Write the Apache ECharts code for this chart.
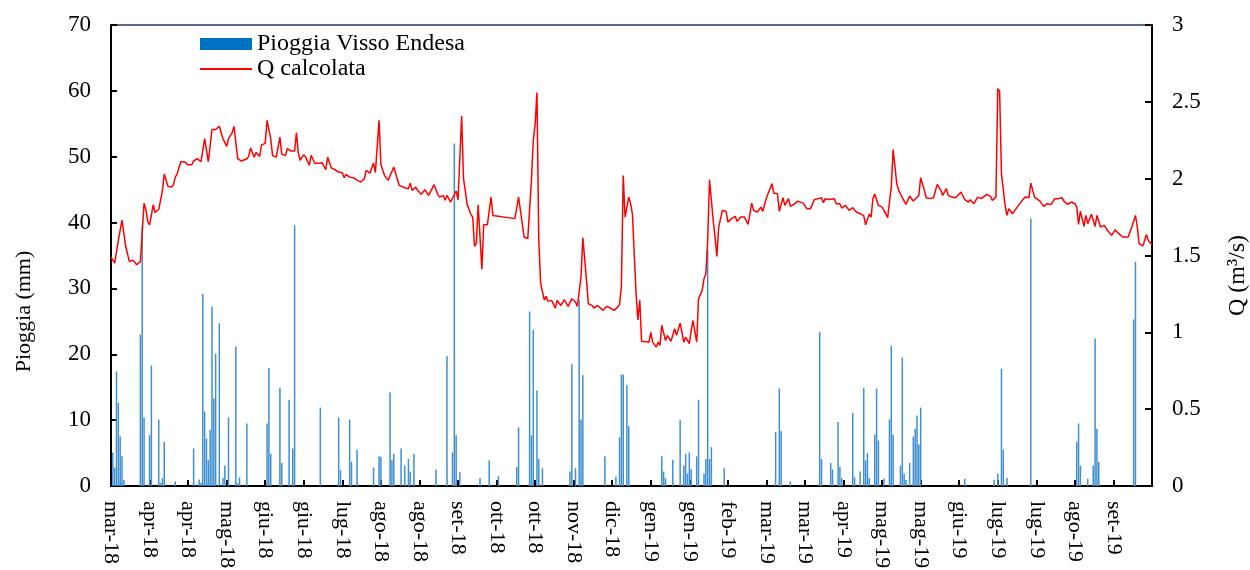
<!DOCTYPE html>
<html>
<head>
<meta charset="utf-8">
<script src="https://cdn.jsdelivr.net/npm/echarts@6/dist/echarts.min.js"></script>
<style>
  html, body { margin: 0; padding: 0; background: #fff; }
  #chart { width: 1250px; height: 570px; }
</style>
</head>
<body>
<div id="chart"></div>
<script>
// x = giorni dal 13/03/2018, un'etichetta ogni 21 giorni
var tickLabels = ['mar-18', 'apr-18', 'apr-18', 'mag-18', 'giu-18', 'giu-18', 'lug-18',
    'ago-18', 'ago-18', 'set-18', 'ott-18', 'ott-18', 'nov-18', 'dic-18', 'gen-19',
    'gen-19', 'feb-19', 'mar-19', 'mar-19', 'apr-19', 'mag-19', 'mag-19', 'giu-19',
    'lug-19', 'lug-19', 'ago-19', 'set-19'];

// pioggia giornaliera (mm): [giorno, mm]
var pioggia = [
    [1, 5.1], [2, 2.8], [3, 17.4], [4, 12.6], [5, 7.5], [6, 4.5], [7, 0.9],
    [16, 23], [17, 39.5], [18, 10.4], [21, 7.7], [22, 18.3], [26, 10.1], [27, 0.5],
    [28, 1.2], [29, 6.7], [35, 0.7], [45, 5.7], [48, 1.0], [49, 0.5], [50, 29.2],
    [51, 11.3], [52, 7.2], [53, 3.9], [54, 8.5], [55, 27.2], [56, 13.3], [57, 20.1],
    [59, 24.7], [61, 1.2], [62, 3.1], [64, 10.4], [68, 21.2], [69, 0.4], [70, 1.3],
    [74, 9.5], [85, 9.5], [86, 17.9], [87, 4.9], [92, 14.9], [93, 3.5], [97, 13.1],
    [99, 5.7], [100, 39.6], [114, 11.9], [124, 10.4], [125, 2.4], [130, 10.1], [131, 3.7],
    [134, 5.5], [143, 2.8], [146, 4.5], [147, 4.4], [152, 14.2], [153, 3.9], [154, 4.9],
    [158, 5.7], [160, 3.1], [162, 4.1], [163, 2.2], [165, 4.9], [177, 2.5], [183, 19.7],
    [186, 5.1], [187, 52], [188, 7.7], [190, 2.1], [201, 1.2], [206, 3.9], [211, 1.5],
    [221, 2.9], [222, 8.9], [228, 26.5], [229, 7.7], [230, 23.7], [232, 14.5], [233, 4.1],
    [235, 2.7], [250, 2.2], [251, 18.5], [253, 2.7], [255, 28.2], [256, 10.1], [257, 16.8],
    [269, 4.5], [275, 1.4], [277, 7.4], [278, 16.9], [279, 16.9], [281, 15.3], [282, 9.1],
    [300, 4.5], [301, 2.2], [302, 1.2], [306, 4.0], [310, 10], [312, 3.1], [313, 4.9],
    [314, 1.9], [315, 5.1], [316, 2.6], [319, 4.5], [320, 13.1], [323, 1.9], [324, 4.1],
    [325, 35.8], [326, 4.1], [327, 5.9], [334, 2.7], [362, 8.2], [364, 14.8], [365, 8.3],
    [370, 0.7], [386, 23.4], [387, 4.1], [392, 3.5], [393, 2.5], [396, 9.7], [397, 2.9],
    [398, 1.2], [404, 11.1], [405, 1.3], [408, 2.2], [410, 14.9], [411, 3.9], [412, 5],
    [413, 1.2], [416, 7.8], [417, 14.8], [418, 6.9], [421, 1.1], [424, 10.1], [425, 21.3],
    [426, 7.8], [430, 3.1], [431, 19.5], [432, 1.9], [433, 0.9], [435, 3.5], [437, 7.5],
    [438, 8.7], [439, 10.7], [440, 6.3], [441, 11.9], [465, 1.1], [481, 0.9], [483, 1.9],
    [485, 17.8], [486, 5.5], [488, 1.2], [501, 40.6], [526, 6.7], [527, 9.5], [528, 3.1],
    [532, 1.1], [535, 3.1], [536, 22.4], [537, 8.7], [538, 3.7], [557, 25.3], [558, 34]
];

// portata calcolata (m3/s): [giorno, Q]
var portata = [
    [0, 1.49], [2, 1.45], [4, 1.60], [6, 1.73], [8, 1.56], [10, 1.46], [12, 1.47],
    [14, 1.44], [16, 1.46], [17, 1.47], [18, 1.84], [19, 1.80], [20, 1.72], [21, 1.70],
    [23, 1.83], [24, 1.78], [25, 1.77], [26, 1.80], [28, 1.92], [29, 2.03], [31, 1.95],
    [33, 1.945], [34, 1.96], [35, 2.01], [36, 2.03], [38, 2.11], [40, 2.11], [42, 2.09],
    [44, 2.09], [45, 2.115], [47, 2.13], [49, 2.11], [51, 2.26], [53, 2.11], [54, 2.12],
    [55, 2.32], [57, 2.32], [59, 2.34], [61, 2.26], [63, 2.21], [64, 2.26], [66, 2.30],
    [67, 2.34], [68, 2.34], [69, 2.13], [71, 2.115], [74, 2.13], [75, 2.145], [76, 2.20],
    [78, 2.14], [79, 2.17], [81, 2.145], [82, 2.22], [84, 2.23], [85, 2.38], [87, 2.26],
    [88, 2.15], [90, 2.14], [92, 2.27], [93, 2.16], [95, 2.15], [96, 2.195], [98, 2.18],
    [99, 2.19], [100, 2.18], [101, 2.30], [102, 2.17], [103, 2.12], [105, 2.156], [106, 2.14],
    [108, 2.087], [109, 2.152], [111, 2.10], [113, 2.10], [115, 2.104], [117, 2.058],
    [118, 2.14], [120, 2.07], [122, 2.058], [124, 2.043], [126, 2.039], [127, 2.006],
    [128, 2.028], [130, 2.01], [132, 2.006], [134, 1.99], [136, 1.978], [138, 2.0],
    [139, 2.054], [141, 2.036], [143, 2.102], [144, 2.04], [146, 2.38], [147, 2.09],
    [149, 2.02], [151, 1.99], [154, 2.076], [157, 1.956], [158, 1.963], [160, 1.941],
    [162, 1.935], [163, 1.971], [164, 1.924], [166, 1.945], [167, 1.924], [169, 1.898],
    [171, 1.928], [173, 1.891], [174, 1.902], [176, 1.961], [178, 1.896], [179, 1.88],
    [181, 1.891], [182, 1.859], [183, 1.891], [185, 1.848], [186, 1.841], [188, 1.92],
    [189, 1.86], [191, 2.41], [192, 2.0], [193, 1.92], [194, 1.83], [196, 1.77], [197, 1.75],
    [198, 1.56], [199, 1.58], [200, 1.83], [202, 1.41], [203, 1.70], [205, 1.70], [207, 1.88],
    [208, 1.76], [220, 1.74], [222, 1.88], [225, 1.62], [226, 1.62], [227, 1.61], [228, 1.80],
    [229, 1.99], [230, 2.25], [231, 2.35], [232, 2.56], [233, 1.60], [234, 1.32], [236, 1.21],
    [237, 1.234], [238, 1.203], [240, 1.208], [242, 1.158], [243, 1.208], [245, 1.175],
    [247, 1.212], [249, 1.169], [251, 1.219], [253, 1.197], [254, 1.169], [256, 1.36],
    [257, 1.616], [259, 1.338], [260, 1.186], [262, 1.175], [263, 1.158], [265, 1.175],
    [266, 1.164], [268, 1.143], [270, 1.169], [272, 1.158], [274, 1.143], [276, 1.164],
    [277, 1.182], [278, 1.30], [279, 2.02], [280, 1.75], [282, 1.88], [283, 1.84], [284, 1.77],
    [286, 1.25], [287, 1.08], [288, 1.21], [289, 0.94], [291, 0.94], [293, 0.936], [294, 1.0],
    [295, 0.936], [297, 0.904], [298, 0.936], [299, 0.915], [300, 1.045], [302, 0.947],
    [303, 0.98], [305, 0.941], [307, 1.023], [308, 0.98], [310, 1.06], [312, 0.936],
    [313, 0.969], [315, 0.926], [316, 1.012], [317, 1.077], [319, 0.936], [320, 1.219],
    [322, 1.273], [323, 1.349], [324, 1.381], [325, 1.598], [326, 1.993], [328, 1.728],
    [329, 1.62], [330, 1.494], [331, 1.685], [333, 1.794], [335, 1.787], [336, 1.717],
    [338, 1.74], [340, 1.755], [341, 1.722], [343, 1.75], [345, 1.75], [347, 1.702],
    [349, 1.841], [350, 1.794], [352, 1.783], [354, 1.815], [355, 1.787], [357, 1.876],
    [358, 1.885], [360, 1.967], [361, 1.906], [363, 1.902], [364, 1.787], [366, 1.876],
    [367, 1.826], [369, 1.87], [370, 1.82], [372, 1.833], [374, 1.854], [375, 1.863],
    [377, 1.841], [379, 1.805], [381, 1.805], [383, 1.863], [385, 1.87], [387, 1.876],
    [388, 1.844], [389, 1.87], [391, 1.865], [392, 1.876], [394, 1.87], [395, 1.837],
    [397, 1.837], [398, 1.809], [400, 1.826], [402, 1.794], [403, 1.794], [404, 1.811],
    [406, 1.783], [408, 1.772], [410, 1.76], [411, 1.70], [413, 1.77], [414, 1.75], [415, 1.87],
    [416, 1.90], [418, 1.826], [420, 1.815], [421, 1.794], [423, 1.746], [424, 1.75],
    [425, 1.945], [426, 2.189], [428, 1.967], [429, 1.924], [431, 1.876], [433, 1.833],
    [435, 1.887], [437, 1.854], [438, 1.848], [440, 1.891], [441, 2.006], [443, 1.924],
    [444, 1.876], [446, 1.87], [448, 1.876], [450, 1.963], [452, 1.924], [453, 1.891],
    [455, 1.935], [456, 1.891], [458, 1.88], [460, 1.876], [463, 1.913], [465, 1.863],
    [467, 1.848], [468, 1.863], [470, 1.837], [472, 1.88], [474, 1.87], [475, 1.88],
    [477, 1.898], [479, 1.885], [480, 1.859], [482, 1.88], [483, 2.586], [484, 2.57],
    [485, 2.033], [487, 1.826], [488, 1.761], [489, 1.805], [491, 1.772], [493, 1.805],
    [494, 1.815], [496, 1.854], [498, 1.88], [500, 1.876], [501, 1.971], [503, 1.88],
    [504, 1.87], [506, 1.854], [508, 1.82], [510, 1.837], [512, 1.831], [514, 1.87],
    [516, 1.87], [518, 1.876], [519, 1.854], [521, 1.833], [523, 1.848], [525, 1.837],
    [526, 1.815], [527, 1.702], [528, 1.789], [530, 1.689], [531, 1.761], [532, 1.707],
    [534, 1.768], [536, 1.689], [537, 1.761], [539, 1.685], [541, 1.696], [543, 1.659],
    [545, 1.631], [547, 1.668], [548, 1.652], [549, 1.663], [551, 1.62], [554, 1.62],
    [556, 1.685], [557, 1.691], [558, 1.761], [559, 1.685], [560, 1.577], [562, 1.561],
    [563, 1.598], [564, 1.637], [565, 1.598], [567, 1.57]
];

var FONT = "'Liberation Serif', 'Times New Roman', serif";

function makeOption() {
    var option = {
        animation: false,
        backgroundColor: '#fff',
        textStyle: { fontFamily: FONT, color: '#000' },
        grid: { left: 111, right: 98, top: 25, bottom: 84, outerBoundsMode: 'none' },
        legend: {
            orient: 'vertical',
            left: 199,
            top: 32,
            padding: 0,
            itemWidth: 52,
            itemHeight: 12,
            itemGap: 1,
            textStyle: { fontFamily: FONT, fontSize: 24, color: '#000' },
            data: [
                { name: 'Pioggia Visso Endesa', icon: 'rect', itemStyle: { color: '#0070C0' } },
                // niente pallino sull'icona della linea
                { name: 'Q calcolata', itemStyle: { opacity: 0 } }
            ]
        },
        xAxis: [{
            type: 'value',
            min: 0,
            max: 567,
            interval: 21,
            axisLine: { onZero: false, lineStyle: { color: '#000', width: 2 } },
            axisTick: { inside: true, length: 6, lineStyle: { color: '#000', width: 2 } },
            splitLine: { show: false },
            axisLabel: {
                rotate: -90,
                margin: 15,
                fontFamily: FONT,
                fontSize: 22,
                color: '#000',
                showMaxLabel: false,
                formatter: function (v) {
                    return tickLabels[Math.round(v / 21)] || '';
                }
            }
        }, {
            // bordo superiore dell'area del grafico
            type: 'value',
            position: 'top',
            min: 0,
            max: 567,
            axisLine: { show: true, onZero: false, lineStyle: { color: '#1f3866', width: 1.5 } },
            axisTick: { show: false },
            axisLabel: { show: false },
            splitLine: { show: false }
        }],
        yAxis: [{
            type: 'value',
            name: 'Pioggia (mm)',
            nameLocation: 'middle',
            nameGap: 76,
            nameTextStyle: { fontFamily: FONT, fontSize: 22, color: '#000', padding: [0, 112, 0, 0] },
            min: 0,
            max: 70,
            interval: 10,
            axisLine: { show: true, onZero: false, lineStyle: { color: '#000', width: 2 } },
            axisTick: { show: true, inside: true, length: 6, lineStyle: { color: '#000', width: 2 } },
            splitLine: { show: false },
            axisLabel: { margin: 20, fontFamily: FONT, fontSize: 23, color: '#000' }
        }, {
            type: 'value',
            name: 'Q (m³/s)',
            nameLocation: 'middle',
            nameGap: 74,
            nameTextStyle: { fontFamily: FONT, fontSize: 24, color: '#000', padding: [0, 40, 0, 0] },
            position: 'right',
            min: 0,
            max: 3,
            interval: 0.5,
            axisLine: { show: true, onZero: false, lineStyle: { color: '#000', width: 2 } },
            axisTick: { show: true, inside: true, length: 7, lineStyle: { color: '#000', width: 2 } },
            splitLine: { show: false },
            axisLabel: { margin: 20, fontFamily: FONT, fontSize: 23, color: '#000' }
        }],
        series: [{
            name: 'Pioggia Visso Endesa',
            type: 'bar',
            xAxisIndex: 0,
            yAxisIndex: 0,
            barWidth: 1.5,
            itemStyle: { color: '#3f8fd2' },
            data: pioggia
        }, {
            name: 'Q calcolata',
            type: 'line',
            xAxisIndex: 0,
            yAxisIndex: 1,
            symbol: 'none',
            lineStyle: { color: '#ff0000', width: 1.5 },
            itemStyle: { color: '#ff0000' },
            z: 3,
            data: portata
        }]
    };
    return option;
}

function setChart(id, option) {
    var myChart = echarts.init(document.getElementById(id), null, { renderer: 'canvas' });
    myChart.setOption(option);
}

setChart('chart', makeOption());
</script>
</body>
</html>
